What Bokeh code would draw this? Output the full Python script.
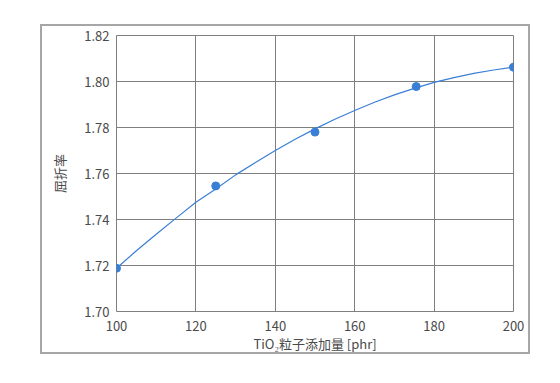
from bokeh.plotting import figure
from bokeh.models import Range1d, FixedTicker, CustomJSTickFormatter
from bokeh.embed import file_html
from bokeh.resources import INLINE

# Measured data points
tio2_phr = [100, 125, 150, 175.5, 200]
refractive_index = [1.7188, 1.7546, 1.7780, 1.7978, 1.8062]

# Trend curve
curve_x = [100, 105, 110, 115, 120, 125, 130, 135, 140, 145, 150,
           155, 160, 165, 170, 175, 180, 185, 190, 195, 200]
curve_y = [1.7188, 1.7264, 1.7336, 1.7406, 1.7475, 1.7533, 1.7594, 1.7648, 1.7700, 1.7749, 1.7794,
           1.7836, 1.7874, 1.7910, 1.7942, 1.7970, 1.7996, 1.8017, 1.8035, 1.8050, 1.8062]

x_ticks = [100, 120, 140, 160, 180, 200]
y_ticks = [1.70, 1.72, 1.74, 1.76, 1.78, 1.80, 1.82]

FONT = "Noto Sans CJK JP"
BLUE = "#3a7fd6"
GRID = "#7f7f7f"
TEXT = "#4a4a4a"

p = figure(width=490, height=330, output_backend="svg", toolbar_location=None,
           x_range=Range1d(100, 200), y_range=Range1d(1.70, 1.82),
           min_border_left=74, min_border_right=19, min_border_top=9, min_border_bottom=45)
p.styles = {"margin-left": "40px", "margin-top": "24px", "border": "2px solid #a6a6a6"}

p.background_fill_color = "white"
p.border_fill_color = "white"
p.outline_line_color = GRID
p.outline_line_width = 1

p.xaxis.ticker = FixedTicker(ticks=x_ticks)
p.yaxis.ticker = FixedTicker(ticks=y_ticks)
p.yaxis.formatter = CustomJSTickFormatter(code="return tick.toFixed(2);")

for ax in (p.xaxis, p.yaxis):
    ax.axis_line_color = None
    ax.major_tick_line_color = None
    ax.minor_tick_line_color = None
    ax.major_tick_out = 0
    ax.major_tick_in = 0
    ax.minor_tick_out = 0
    ax.minor_tick_in = 0
    ax.major_label_text_font = FONT
    ax.major_label_text_font_size = "13px"
    ax.major_label_text_color = TEXT
    ax.axis_label_text_font = FONT
    ax.axis_label_text_font_size = "13px"
    ax.axis_label_text_color = TEXT
    ax.axis_label_text_font_style = "normal"

p.xaxis.axis_label = "TiO₂粒子添加量 [phr]"
p.yaxis.axis_label = "屈折率"
p.xaxis.major_label_standoff = 9
p.yaxis.major_label_standoff = 7
p.xaxis.axis_label_standoff = 0
p.yaxis.axis_label_standoff = 12

p.xgrid.grid_line_color = GRID
p.ygrid.grid_line_color = GRID
p.xgrid.grid_line_width = 1
p.ygrid.grid_line_width = 1

p.line(curve_x, curve_y, line_color=BLUE, line_width=1.2)
p.scatter(tio2_phr, refractive_index, size=8, fill_color=BLUE, line_color=BLUE)

open("out.html", "w").write(file_html(p, INLINE))
